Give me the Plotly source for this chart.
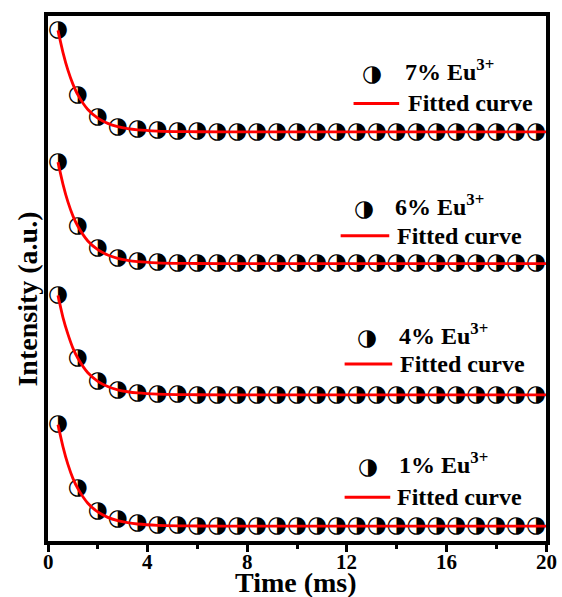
import plotly.graph_objects as go

# ---------------- data ----------------
time_ms = [0.4, 1.2, 2.0, 2.8, 3.6, 4.4, 5.2, 6.0, 6.8, 7.6, 8.4, 9.2, 10.0,
           10.8, 11.6, 12.4, 13.2, 14.0, 14.8, 15.6, 16.4, 17.2, 18.0, 18.8, 19.6]

int_7 = [1.02, 0.37, 0.145, 0.05, 0.028, 0.012, 0.005, 0.002, 0, 0, 0, 0, 0,
         0, 0, 0, 0, 0, 0, 0, 0, 0, 0, 0, 0]
int_6 = [1.02, 0.38, 0.15, 0.05, 0.02, 0.01, 0.004, 0, 0, 0, 0, 0, 0,
         0, 0, 0, 0, 0, 0, 0, 0, 0, 0, 0, 0]
int_4 = [1.00, 0.37, 0.14, 0.045, 0.02, 0.01, 0.004, 0, 0, 0, 0, 0, 0,
         0, 0, 0, 0, 0, 0, 0, 0, 0, 0, 0, 0]
int_1 = [1.02, 0.377, 0.15, 0.067, 0.033, 0.01, 0.005, 0, 0, 0, 0, 0, 0,
         0, 0, 0, 0, 0, 0, 0, 0, 0, 0, 0, 0]

fit_time = [0.4, 0.6, 0.8, 1.0, 1.2, 1.6, 2.0, 2.4, 2.8, 3.2, 3.6, 4.4, 5.2,
            6.0, 8.0, 12.0, 16.0, 20.0]
fit_7 = [1.02, 0.80, 0.62, 0.48, 0.372, 0.225, 0.138, 0.085, 0.052, 0.032,
         0.02, 0.008, 0.003, 0.001, 0, 0, 0, 0]
fit_6 = [1.02, 0.80, 0.62, 0.48, 0.375, 0.227, 0.14, 0.086, 0.052, 0.032,
         0.02, 0.008, 0.003, 0.001, 0, 0, 0, 0]
fit_4 = [1.00, 0.78, 0.61, 0.47, 0.368, 0.222, 0.136, 0.083, 0.05, 0.031,
         0.019, 0.007, 0.003, 0.001, 0, 0, 0, 0]
fit_1 = [1.02, 0.80, 0.62, 0.48, 0.377, 0.23, 0.142, 0.088, 0.055, 0.034,
         0.021, 0.008, 0.003, 0.001, 0, 0, 0, 0]

series_labels = ["7% Eu<sup>3+</sup>", "6% Eu<sup>3+</sup>",
                 "4% Eu<sup>3+</sup>", "1% Eu<sup>3+</sup>"]
series_offsets = [3.965, 2.64, 1.32, 0.0]
x_ticks = [0, 4, 8, 12, 16, 20]
x_minor_ticks = [2, 6, 10, 14, 18]

# ---------------- figure ----------------
W, H = 562, 597
L, T = 48, 13
PW, PH = 502, 528
R, B = W - L - PW, H - T - PH
fig = go.Figure()

all_int = [int_7, int_6, int_4, int_1]
all_fit = [fit_7, fit_6, fit_4, fit_1]

MK = 23
for vals, off in zip(all_int, series_offsets):
    fig.add_trace(go.Scatter(
        x=time_ms, y=[v + off for v in vals], mode="text",
        text=["\u25D1"] * len(time_ms), textposition="middle center",
        textfont=dict(family="DejaVu Sans", size=MK, color="black"),
        showlegend=False, hoverinfo="skip", cliponaxis=False))

for vals, off in zip(all_fit, series_offsets):
    fig.add_trace(go.Scatter(
        x=fit_time, y=[v + off for v in vals], mode="lines",
        line=dict(color="#ff0000", width=2.8, shape="spline", smoothing=0.6),
        showlegend=False, hoverinfo="skip"))


def xp(px):
    return (px - L) / PW


def yp(py):
    return (T + PH - py) / PH


serif = "Liberation Serif"
# legend blocks: (marker x, marker y, label x, line x0, line x1, line y, fit text x) in reference px
legend_pos = [
    (375, 70, 406, 356, 402, 101, 409),
    (367, 206, 396, 343, 392, 234, 398),
    (370, 336, 400, 347, 395, 363, 401),
    (371, 466, 400, 347, 393, 497, 398),
]
for lab, (mx, my, tx, lx0, lx1, ly, fx) in zip(series_labels, legend_pos):
    fig.add_annotation(x=xp(mx), y=yp(my), xref="paper", yref="paper",
                       text="\u25D1", showarrow=False, xanchor="center", yanchor="middle",
                       font=dict(family="DejaVu Sans", size=MK, color="black"))
    fig.add_annotation(x=xp(tx), y=yp(my + 14), xref="paper", yref="paper",
                       text="<b>" + lab + "</b>", showarrow=False, xanchor="left",
                       yanchor="bottom", font=dict(family=serif, size=24, color="black"))
    fig.add_shape(type="line", xref="paper", yref="paper",
                  x0=xp(lx0), x1=xp(lx1), y0=yp(ly), y1=yp(ly),
                  line=dict(color="#ff0000", width=2.8))
    fig.add_annotation(x=xp(fx), y=yp(ly), xref="paper", yref="paper",
                       text="<b>Fitted curve</b>", showarrow=False, xanchor="left",
                       yanchor="middle", font=dict(family=serif, size=24, color="black"))

# x tick labels (placed at the tick values of the x axis)
for v in x_ticks:
    fig.add_annotation(x=v, xref="x", y=yp(562), yref="paper",
                       text="<b>%d</b>" % v, showarrow=False,
                       xanchor="center", yanchor="middle",
                       font=dict(family=serif, size=21, color="black"))

# axis titles
fig.add_annotation(x=xp(27), y=yp(298), xref="paper", yref="paper",
                   text="<b>Intensity (a.u.)</b>", showarrow=False, textangle=-90,
                   xanchor="center", yanchor="middle",
                   font=dict(family=serif, size=28, color="black"))
fig.add_annotation(x=xp(298), y=yp(583), xref="paper", yref="paper",
                   text="<b>Time (ms)</b>", showarrow=False,
                   xanchor="center", yanchor="middle",
                   font=dict(family=serif, size=28, color="black"))

fig.update_layout(
    width=W, height=H,
    margin=dict(l=L, r=R, t=T, b=B),
    paper_bgcolor="white", plot_bgcolor="white",
    xaxis=dict(range=[0, 20], showgrid=False, zeroline=False,
               showline=True, linecolor="black", linewidth=4, mirror=True,
               ticks="outside", ticklen=7, tickwidth=3, tickcolor="black",
               tickvals=x_ticks, showticklabels=False,
               minor=dict(tickvals=x_minor_ticks, ticks="outside",
                          ticklen=4, tickwidth=3, tickcolor="black"),
               fixedrange=True),
    yaxis=dict(range=[-0.15, 5.13], showgrid=False, zeroline=False,
               showline=True, linecolor="black", linewidth=4, mirror=True,
               showticklabels=False, ticks="", fixedrange=True),
)

fig.write_html(
    "out.html",
    config={"displayModeBar": False},
    post_script="document.body.style.margin='0';document.body.style.overflow='hidden';",
)
